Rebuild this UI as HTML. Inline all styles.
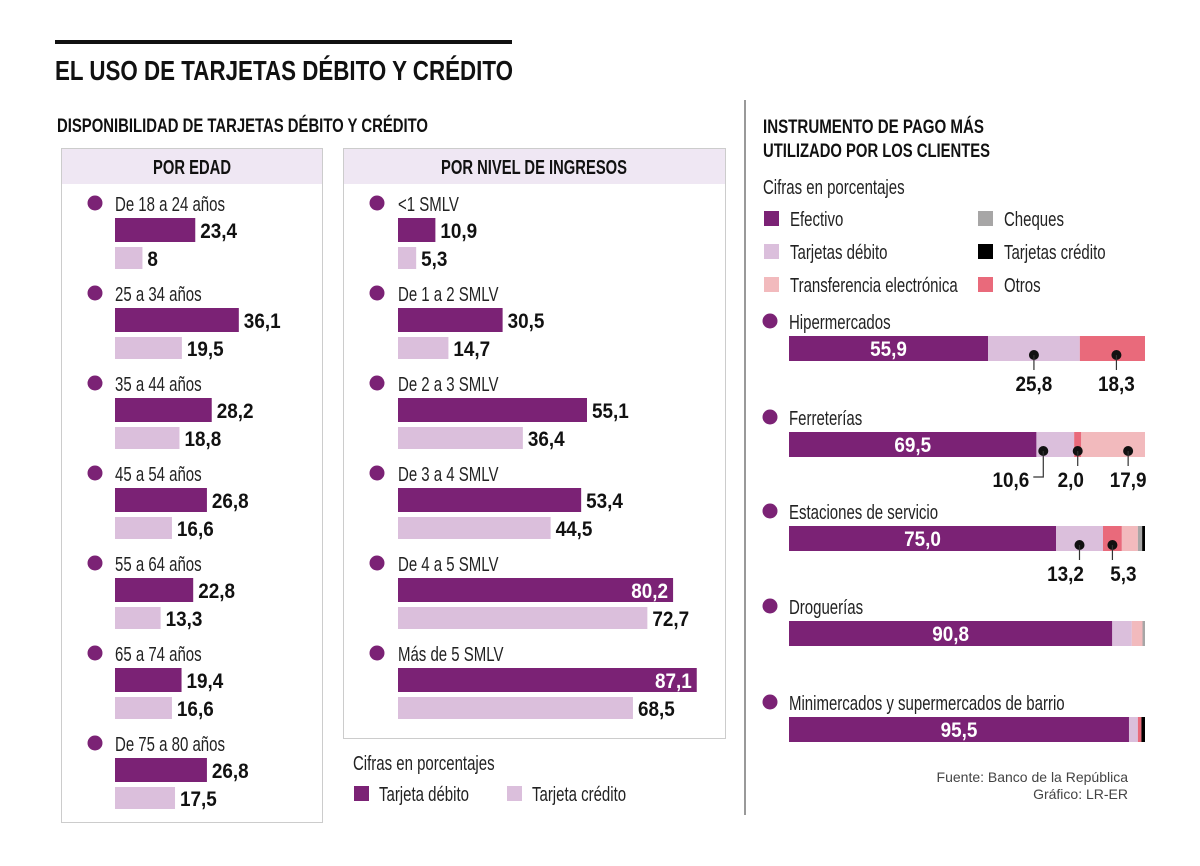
<!DOCTYPE html>
<html><head><meta charset="utf-8"><style>
body{margin:0;background:#fff}
svg{display:block;font-family:"Liberation Sans",sans-serif}
.t{font-weight:bold;fill:#111}
.lab{font-size:20px;fill:#222}
.val{font-size:21px;font-weight:bold;fill:#111}
.ival{font-size:21px;font-weight:bold;fill:#fff}
</style></head><body>
<svg id="s" width="1200" height="866" viewBox="0 0 1200 866" xmlns="http://www.w3.org/2000/svg">
<rect x="55" y="40" width="457" height="4" fill="#111"/>
<text x="55" y="80" class="t" font-size="28" textLength="458" lengthAdjust="spacingAndGlyphs">EL USO DE TARJETAS DÉBITO Y CRÉDITO</text>
<text x="57" y="132" class="t" font-size="19" textLength="371" lengthAdjust="spacingAndGlyphs">DISPONIBILIDAD DE TARJETAS DÉBITO Y CRÉDITO</text>
<rect x="744" y="100" width="2" height="715" fill="#999"/>
<g>
<rect x="61.5" y="148.5" width="261" height="674" fill="#fff" stroke="#ccc"/>
<rect x="62" y="149" width="260" height="35" fill="#efe7f3"/>
<text x="153" y="174" class="t" font-size="20" textLength="78" lengthAdjust="spacingAndGlyphs">POR EDAD</text>
</g>
<g>
<rect x="343.5" y="148.5" width="382" height="590" fill="#fff" stroke="#ccc"/>
<rect x="344" y="149" width="381" height="35" fill="#efe7f3"/>
<text x="441" y="174" class="t" font-size="20" textLength="186" lengthAdjust="spacingAndGlyphs">POR NIVEL DE INGRESOS</text>
</g>
<text x="353" y="770" class="lab">Cifras en porcentajes</text>
<rect x="354" y="786" width="15" height="15" fill="#7b2275"/>
<text x="379" y="801" class="lab">Tarjeta débito</text>
<rect x="507" y="786" width="15" height="15" fill="#dbbfdc"/>
<text x="532" y="801" class="lab">Tarjeta crédito</text>

<text x="763" y="133" class="t" font-size="19" textLength="221" lengthAdjust="spacingAndGlyphs">INSTRUMENTO DE PAGO MÁS</text>
<text x="763" y="157" class="t" font-size="19" textLength="227" lengthAdjust="spacingAndGlyphs">UTILIZADO POR LOS CLIENTES</text>
<text x="763" y="194" class="lab">Cifras en porcentajes</text>
<g id="rlegend"></g>
<g id="left"></g><g id="mid"></g><g id="right"></g>
<text x="1128" y="782" text-anchor="end" font-size="14" fill="#444">Fuente: Banco de la República</text>
<text x="1128" y="799" text-anchor="end" font-size="14" fill="#444">Gráfico: LR-ER</text>
</svg>
<script>
const ageCats=["De 18 a 24 años","25 a 34 años","35 a 44 años","45 a 54 años","55 a 64 años","65 a 74 años","De 75 a 80 años"];
const ageDebit=[23.4,36.1,28.2,26.8,22.8,19.4,26.8];
const ageCredit=[8,19.5,18.8,16.6,13.3,16.6,17.5];
const ageDebitLbl=["23,4","36,1","28,2","26,8","22,8","19,4","26,8"];
const ageCreditLbl=["8","19,5","18,8","16,6","13,3","16,6","17,5"];
const incCats=["<1 SMLV","De 1 a 2 SMLV","De 2 a 3 SMLV","De 3 a 4 SMLV","De 4 a 5 SMLV","Más de 5 SMLV"];
const incDebit=[10.9,30.5,55.1,53.4,80.2,87.1];
const incCredit=[5.3,14.7,36.4,44.5,72.7,68.5];
const incDebitLbl=["10,9","30,5","55,1","53,4","80,2","87,1"];
const incCreditLbl=["5,3","14,7","36,4","44,5","72,7","68,5"];
const storeCats=["Hipermercados","Ferreterías","Estaciones de servicio","Droguerías","Minimercados y supermercados de barrio"];
const segNames=["Efectivo","Tarjetas débito","Otros","Transferencia electrónica","Cheques","Tarjetas crédito"];
const efectivo=[55.9,69.5,75.0,90.8,95.5];
const debito=[25.8,10.6,13.2,5.5,2.5];
const otros=[18.3,2.0,5.3,0,1.0];
const transfer=[0,17.9,4.5,3.0,0];
const cheques=[0,0,1.2,0.7,0];
const credito=[0,0,0.8,0,1.0];
const NS="http://www.w3.org/2000/svg";
function el(tag,attrs,parent,txt){const e=document.createElementNS(NS,tag);for(const k in attrs)e.setAttribute(k,attrs[k]);if(txt!==undefined)e.textContent=txt;parent.appendChild(e);return e;}
const K=3.43;
function xS(v,x0){return x0+v*K;}
function group(gid,cats,deb,cre,dl,cl,x0,dotX){
 const g=document.getElementById(gid);
 cats.forEach((c,i)=>{
  const y=203+i*90;
  const d=el('circle',{cx:dotX,cy:y,r:7.5,fill:'#7b2275'},g);
  
  const t=el('text',{x:x0,y:y+8,class:'lab'},g,c);
  
  const w1=xS(deb[i],x0)-x0, w2=xS(cre[i],x0)-x0;
  const b1=el('rect',{x:x0,y:y+15,width:w1,height:24,fill:'#7b2275'},g);
  
  const b2=el('rect',{x:x0,y:y+44,width:w2,height:22,fill:'#dbbfdc'},g);
  
  const inside=w1>240;
  const v1=el('text',{x:inside?x0+w1-5:x0+w1+5,y:y+35,class:inside?'ival':'val','text-anchor':inside?'end':'start'},g,dl[i]);
  
  const v2=el('text',{x:x0+w2+5,y:y+63,class:'val'},g,cl[i]);
  
 });
}
group('left',ageCats,ageDebit,ageCredit,ageDebitLbl,ageCreditLbl,115,95);
group('mid',incCats,incDebit,incCredit,incDebitLbl,incCreditLbl,398,377);
const lg=document.getElementById('rlegend');
const legItems=[["Efectivo","#7b2275",764,218],["Tarjetas débito","#dbbfdc",764,251],["Transferencia electrónica","#f2babd",764,284],["Cheques","#a7a6a6",978,218],["Tarjetas crédito","#000",978,251],["Otros","#e96a7b",978,284]];
legItems.forEach(l=>{
 const r=el('rect',{x:l[2],y:l[3]-7,width:15,height:15,fill:l[1]},lg);
 
 const t=el('text',{x:l[2]+26,y:l[3]+8,class:'lab'},lg,l[0]);
 
});
const segData=[efectivo,debito,otros,transfer,cheques,credito];
const segCol=["#7b2275","#dbbfdc","#e96a7b","#f2babd","#a7a6a6","#000"];
const RX0=789,RW=356;
function rx(v){return RX0+v/100*RW;}
const rg=document.getElementById('right');
const ys=[321,417,511,606,702];
// annotation: store, segment index, label, dot shift, elbow flag, label x shift
const ann=[[0,1,"25,8",0,0,0],[0,2,"18,3",4,0,0],[1,1,"10,6",-12,1,0],[1,2,"2,0",0,0,-7],[1,3,"17,9",15,0,0],[2,1,"13,2",0,0,-14],[2,2,"5,3",0,0,11]];
storeCats.forEach((c,i)=>{
 const y=ys[i];
 const d=el('circle',{cx:770,cy:y,r:7.5,fill:'#7b2275'},rg);
 
 const t=el('text',{x:789,y:y+8,class:'lab'},rg,c);
 
 let cum=0;
 segData.forEach((arr,j)=>{
  const v=arr[i];if(v<=0)return;
  const r=el('rect',{x:rx(cum),y:y+15,width:rx(cum+v)-rx(cum),height:25,fill:segCol[j]},rg);
  
  
  if(j==0){const tv=el('text',{x:(rx(0)+rx(v))/2,y:y+35,class:'ival','text-anchor':'middle'},rg,v.toFixed(1).replace('.',','));
   }
  cum+=v;
 });
});
ann.forEach(a=>{
 const si=a[0],sj=a[1];let cum=0;for(let j=0;j<sj;j++)cum+=segData[j][si];
 const v=segData[sj][si];const cx=(rx(cum)+rx(cum+v))/2+a[3];const y=ys[si]+15;
 const dot=el('circle',{cx:cx,cy:y+19,r:5,fill:'#111'},rg);
 
 let pts;
 if(a[4]){pts=`${cx},${y+19} ${cx},${y+45} ${cx-10},${y+45}`;}
 else pts=`${cx},${y+19} ${cx},${y+34}`;
 const ln=el('polyline',{points:pts,fill:'none',stroke:'#333','stroke-width':1.2},rg);
 
 const tx=el('text',{x:a[4]?cx-14:cx+a[5],y:y+55,class:'val','text-anchor':a[4]?'end':'middle'},rg,a[2]);
 
});
document.querySelectorAll('text').forEach(t=>{
 if(t.hasAttribute('textLength'))return;
 const c=t.getAttribute('class')||'';
 const s=c.includes('lab')?0.75:(c.includes('val')?0.9:1);
 if(s===1)return;
 const x=parseFloat(t.getAttribute('x'));
 t.setAttribute('transform',`translate(${x},0) scale(${s},1) translate(${-x},0)`);
});
</script>
</body></html>
